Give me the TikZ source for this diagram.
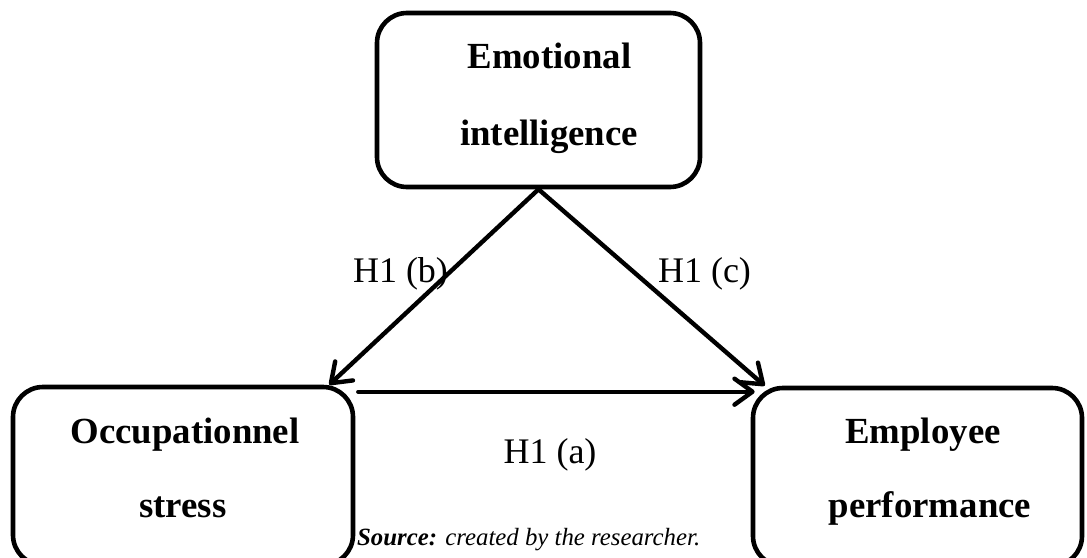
\documentclass[tikz,border=0pt]{standalone}
\usepackage{fontspec}
\setmainfont{Liberation Serif}
\usetikzlibrary{arrows.meta}
\begin{document}
\begin{tikzpicture}[x=1pt,y=-1pt,
  box/.style={draw=black, line width=4.6pt, rounded corners=30pt, fill=white, inner sep=0pt},
  boxtext/.style={anchor=base, inner sep=0pt, font=\fontsize{36.8}{40}\selectfont\bfseries},
  hlabel/.style={anchor=base, inner sep=0pt, font=\fontsize{36}{40}\selectfont},
  link/.style={line width=4.4pt, line cap=round, -{Straight Barb[length=18pt,width=26pt,line cap=round,line join=round]}}
]
\useasboundingbox (0,0) rectangle (1087,557);
\fill[white] (0,0) rectangle (1087,557);

% boxes
\node[box, minimum width=323pt, minimum height=174pt] (ei) at (538.5,100) {};
\node[box, minimum width=340pt, minimum height=178pt] (os) at (183,476) {};
\node[box, minimum width=329pt, minimum height=178pt] (ep) at (917.5,477) {};

% box texts
\node[boxtext] (ei1) at (549.5,68) {Emotional};
\node[boxtext] (ei2) at (549,145) {intelligence};
\node[boxtext] (os1) at (185,443) {Occupationnel};
\node[boxtext] (os2) at (183,517) {stress};
\node[boxtext] (ep1) at (923,443) {Employee};
\node[boxtext] (ep2) at (930,517) {performance};

% connectors
\draw[link] (ei.south) -- ([xshift=-26pt]os.north east);
\draw[link] (ei.south) -- ([xshift=14pt]ep.north west);
\draw[link] ([xshift=3pt,yshift=-7pt]os.north east) -- ([xshift=4pt,yshift=-6pt]ep.north west);

% labels
\node[hlabel] (hb) at (400.5,282) {H1 (b)};
\node[hlabel] (hc) at (704.5,282) {H1 (c)};
\node[hlabel] (ha) at (550,463) {H1 (a)};

% source
\node[anchor=base west, inner sep=0pt, font=\fontsize{24.8}{28}\selectfont\itshape] (src) at (357,545) {\textbf{Source:} created by the researcher.};
\end{tikzpicture}
\end{document}
